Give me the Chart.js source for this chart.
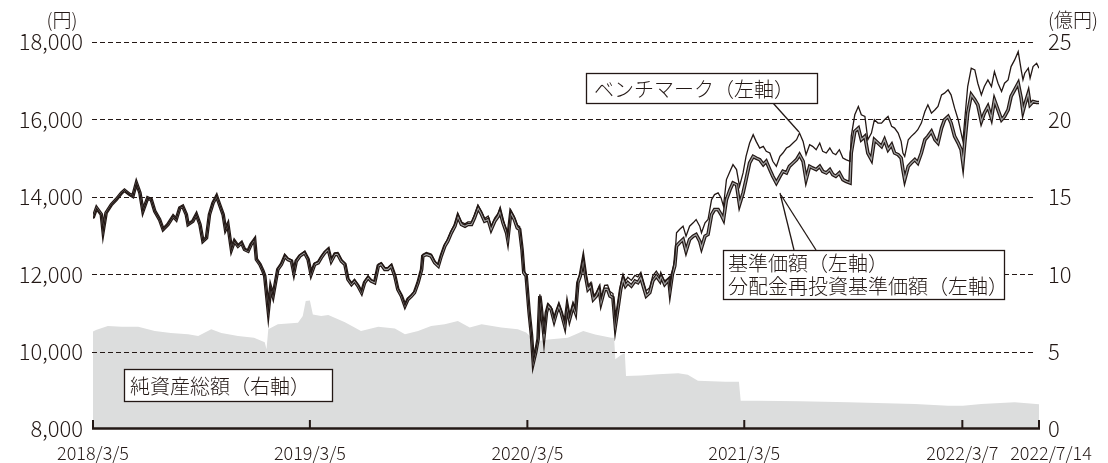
<!DOCTYPE html>
<html><head><meta charset="utf-8">
<script src="https://cdn.jsdelivr.net/npm/chart.js@4.4.1/dist/chart.umd.min.js"></script>
<style>html,body{margin:0;padding:0;background:#fff}#wrap{width:1108px;height:463px}</style>
</head><body><div id="wrap"><canvas id="c" width="1108" height="463"></canvas></div>
<script>
// days since 2018/3/5
const days = [0,6,14,17,22,31,39,48,53,62,67,73,79,84,92,98,104,112,118,126,135,140,146,151,157,160,168,174,180,185,191,196,202,208,213,219,223,227,233,238,244,250,255,261,266,272,275,281,286,289,295,299,303,311,
317,323,328,334,338,342,348,356,362,367,373,379,384,390,396,401,407,412,418,424,429,435,440,446,452,457,463,468,474,480,485,491,496,502,508,513,519,525,530,536,541,547,553,555,561,569,575,581,586,592,597,603,609,614,620,626,631,
637,642,648,654,659,665,670,676,682,685,690,696,698,703,709,714,718,722,725,729,734,738,741,745,749,752,754,759,763,766,771,776,780,784,788,794,798,802,808,812,816,820,825,829,833,838,842,847,852,855,861,866,870,875,879,884,888,892,896,900,906,912,917,922,926,931,937,942,948,954,
956,962,969,971,975,979,982,987,993,998,1004,1010,1015,1021,1024,1030,1035,1041,1046,1052,1057,1061,1066,1072,1077,1083,1088,1094,1099,1105,1111,1116,1122,1128,1133,1139,1144,1150,1156,1161,1167,1172,1178,1184,1189,1195,1200,1206,1211,1217,1223,1228,1234,1240,1245,1250,1256,1262,1267,1274,
1276,1282,1288,1293,1299,1304,1310,1315,1321,1327,1332,1338,1344,1349,1355,1360,1363,1366,1372,1377,1383,1388,1394,1400,1405,1411,1417,1422,1428,1433,1439,1444,1450,1456,1461,1464,1467,1472,1478,1484,1489,1495,1500,1506,1512,1517,1523,1529,1534,1540,1545,1551,1557,1562,1565,1568,1574,1577,1582,1588,1592];

// 基準価額 (円)
const navValues = [13456,13714,13542,13112,13585,13800,13928,14100,14169,14057,14014,14358,14100,13628,13971,13928,13628,13413,13155,13284,13499,13413,13714,13757,13542,13284,13370,13542,13284,12855,12941,13542,13843,14014,13800,13542,13155,13284,12640,12855,12726,12812,12640,12597,12769,12898,12382,12253,12082,11953,11051,11652,11437,12125,
12253,12468,12382,12339,12039,12339,12468,12554,12382,11996,12253,12296,12425,12554,12640,12339,12511,12511,12339,12253,11867,11738,11824,11695,11523,11781,11910,11824,11781,12211,12253,12125,12125,12211,11953,11609,11437,11180,11351,11437,11523,11781,12125,12468,12511,12468,12296,12211,12468,12726,12855,13070,13241,13499,13284,13241,13284,
13284,13456,13714,13542,13370,13413,13155,13370,13499,13628,13327,13070,12898,13585,13413,13198,13155,12640,12039,11953,11008,10407,9719,9977,10321,11437,11180,10407,11008,11180,11094,10793,11008,11180,11008,10664,11180,10836,11180,11008,11781,11953,12382,11953,11609,11695,11351,11437,11609,11266,11609,11609,11437,11394,10664,11180,11609,11867,11695,11781,11695,11824,11781,11910,11695,11437,11523,11824,11953,11824,
11953,11738,11867,11566,11996,12211,12726,12812,12898,12597,12898,12984,13027,12855,12683,12984,13027,13542,13671,13671,13542,13413,13928,14186,14358,14315,13800,14100,14444,14874,15045,15002,14959,14831,14917,14702,14530,14358,14530,14659,14616,14787,14874,14959,15088,14917,14444,14787,14745,14702,14787,14659,14616,14702,14573,14530,14616,14444,14401,14358,
15131,15690,15776,15475,15561,15131,14960,15475,15389,15303,15475,15217,15346,15131,15088,15002,14702,14444,14788,14874,14960,14874,15131,15475,15561,15690,15475,15389,15776,15990,16076,15905,15561,15389,15217,14874,15389,16162,16635,16506,16377,15948,16162,16334,16033,16506,16248,15990,16076,16248,16592,16764,16935,16549,16205,16377,16678,16377,16463,16437,16437];

// 分配金再投資基準価額 (円) — no distributions in the period, identical to 基準価額
const reinvestValues = navValues;

// ベンチマーク (円)
const benchValues = [13430,13700,13530,13100,13570,13790,13920,14090,14160,14050,14010,14350,14100,13630,13970,13930,13630,13420,13160,13290,13510,13420,13720,13770,13550,13290,13380,13550,13290,12860,12950,13560,13860,14030,13810,13550,13160,13300,12650,12870,12740,12830,12650,12610,12790,12920,12390,12270,12090,11960,11060,11670,11450,12150,
12280,12500,12410,12370,12060,12370,12500,12590,12410,12020,12290,12330,12460,12590,12680,12380,12550,12560,12380,12290,11900,11770,11860,11730,11550,11820,11950,11860,11820,12260,12300,12170,12170,12260,11990,11640,11470,11200,11380,11470,11560,11820,12170,12510,12560,12520,12340,12250,12520,12780,12910,13130,13300,13560,13350,13300,13350,
13350,13530,13780,13620,13440,13500,13230,13450,13580,13700,13400,13140,12960,13660,13490,13270,13230,12700,12090,12000,11050,10440,9760,10020,10360,11480,11230,10450,11060,11240,11150,10850,11070,11240,11070,10720,11250,10900,11250,11080,11860,12030,12460,12040,11700,11790,11440,11530,11700,11360,11710,11720,11550,11500,10760,11300,11740,12000,11830,11920,11840,11970,11930,12050,11830,11570,11660,11960,12080,11940,
11990,11824,11910,11652,12082,12382,13070,13156,13241,12984,13241,13327,13413,13241,13070,13327,13413,13928,14057,14100,13971,13757,14444,14659,14831,14702,14272,14616,15045,15389,15604,15432,15260,15303,15174,15131,14917,14787,15045,15131,15260,15303,15389,15475,15647,15432,15088,15346,15303,15217,15389,15174,15131,15260,15131,15088,15217,15002,14959,14917,
15561,16119,16334,16119,16076,15475,15647,15990,15905,15905,15990,16076,15819,15776,15647,15432,15131,15046,15475,15561,15647,15733,15905,16205,16377,16162,16248,16334,16635,16678,16764,16635,16291,15990,15647,15432,15990,16850,17322,17279,16935,16635,16850,17021,16850,17236,16935,16721,16935,17021,17365,17537,17751,17279,17021,17193,17322,17064,17365,17451,17322];

// 純資産総額 (億円)
const assetDays = [0,5,25,48,76,104,131,160,177,199,216,244,271,289,292,295,311,345,353,358,365,370,384,396,424,451,480,508,525,547,569,592,614,634,654,687,715,729,735,744,752,771,799,825,845,872,877,879,889,895,897,922,951,985,1001,1018,1064,1087,1090,1119,1190,1271,1383,1439,1464,1495,1551,1577,1592];
const assetValues = [6.3,6.4,6.66,6.6,6.6,6.33,6.2,6.12,6.0,6.44,6.2,6.0,5.9,5.6,5.15,6.44,6.77,6.87,7.3,8.27,8.3,7.4,7.3,7.36,6.9,6.33,6.6,6.5,6.12,6.33,6.66,6.77,6.98,6.55,6.77,6.55,6.44,6.23,6.0,5.15,5.7,5.8,5.9,6.33,6.1,5.9,5.9,4.5,4.8,4.9,3.43,3.45,3.54,3.6,3.5,3.11,3.05,3.05,1.82,1.82,1.8,1.72,1.61,1.5,1.5,1.61,1.72,1.65,1.6];

const xTickDays = [0,365,731,1096,1463,1592];
const xTickLabels = ['2018/3/5','2019/3/5','2020/3/5','2021/3/5','2022/3/7','2022/7/14'];
const leftTicks = [8000,10000,12000,14000,16000,18000];
const rightTicks = [0,5,10,15,20,25];

const FONT = "'Noto Sans CJK JP Light','Noto Sans CJK JP','Noto Sans',sans-serif";
const INK = '#231815';

const pts = (xs, ys) => xs.map((d, i) => ({x: d, y: ys[i]}));

const decor = {
  id: 'decor',
  afterDatasetDraw(chart, args) {
    if (args.index !== 3) return;
    const ctx = chart.ctx, a = chart.chartArea, y = chart.scales.y;
    ctx.save();
    ctx.strokeStyle = INK; ctx.lineWidth = 1; ctx.setLineDash([5,3]);
    leftTicks.forEach(v => {
      if (v === 8000) return;
      const py = Math.round(y.getPixelForValue(v)) + 0.5;
      ctx.beginPath(); ctx.moveTo(a.left - 1, py); ctx.lineTo(a.right - 4, py); ctx.stroke();
    });
    ctx.restore();
  },
  afterDraw(chart) {
    const ctx = chart.ctx, a = chart.chartArea, x = chart.scales.x;
    ctx.save();
    ctx.strokeStyle = INK; ctx.lineWidth = 2.5;
    ctx.beginPath(); ctx.moveTo(a.left - 1, a.bottom - 0.5); ctx.lineTo(a.right + 1, a.bottom - 0.5); ctx.stroke();
    ctx.lineWidth = 2;
    xTickDays.forEach(d => {
      const px = x.getPixelForValue(d);
      ctx.beginPath(); ctx.moveTo(px, a.bottom); ctx.lineTo(px, a.bottom - 9); ctx.stroke();
    });
    ctx.fillStyle = INK; ctx.textBaseline = 'middle'; ctx.textAlign = 'center';
    ctx.font = '300 18px ' + FONT;
    xTickDays.forEach((d, i) => {
      let px = x.getPixelForValue(d);
      if (i === xTickDays.length - 1) px += 12;
      ctx.fillText(xTickLabels[i], px, 453);
    });
    ctx.font = '300 19px ' + FONT;
    ctx.fillText('(円)', 62, 20);
    ctx.fillText('(億円)', 1073, 20);
    ctx.lineWidth = 1.3; ctx.strokeStyle = INK;
    const box = (bx, by, bw, bh) => {
      ctx.fillStyle = '#fff'; ctx.fillRect(bx, by, bw, bh);
      ctx.strokeRect(bx + 0.5, by + 0.5, bw, bh);
    };
    const line = (x1, y1, x2, y2) => { ctx.beginPath(); ctx.moveTo(x1, y1); ctx.lineTo(x2, y2); ctx.stroke(); };
    line(773, 103, 799, 132);
    line(794, 250, 780, 193);
    line(816, 250, 781, 195);
    box(586, 73, 231, 30);
    box(723, 250, 281, 49);
    box(124, 369, 208, 32);
    ctx.fillStyle = INK; ctx.textAlign = 'left'; ctx.font = '300 20px ' + FONT;
    ctx.fillText('ベンチマーク（左軸）', 594, 89);
    ctx.fillText('基準価額（左軸）', 728, 263);
    ctx.fillText('分配金再投資基準価額（左軸）', 728, 286);
    ctx.fillText('純資産総額（右軸）', 130, 386);
    ctx.restore();
  }
};

new Chart(document.getElementById('c'), {
  type: 'line',
  data: {
    datasets: [
      {label: 'ベンチマーク（左軸）', data: pts(days, benchValues), yAxisID: 'y', borderColor: INK, borderWidth: 1.3, pointRadius: 0, order: 1, tension: 0},
      {label: '基準価額（左軸）', data: pts(days, navValues), yAxisID: 'y', borderColor: '#a0a0a0', borderWidth: 1.2, pointRadius: 0, order: 2, tension: 0},
      {label: '分配金再投資基準価額（左軸）', data: pts(days, reinvestValues), yAxisID: 'y', borderColor: INK, borderWidth: 3.6, pointRadius: 0, order: 3, tension: 0},
      {label: '純資産総額（右軸）', data: pts(assetDays, assetValues), yAxisID: 'y2', borderWidth: 0, borderColor: 'rgba(0,0,0,0)', backgroundColor: '#dcdddd', fill: 'origin', pointRadius: 0, order: 4, tension: 0}
    ]
  },
  options: {
    responsive: false, animation: false,
    layout: {padding: {top: 42, left: 0, right: 0, bottom: 0}},
    plugins: {legend: {display: false}, tooltip: {enabled: false}},
    scales: {
      x: {type: 'linear', min: 0, max: 1592, grid: {display: false}, border: {display: false},
          ticks: {display: false}, afterFit: s => { s.height = 34; }},
      y: {position: 'left', min: 8000, max: 18000, grid: {display: false, drawTicks: false}, border: {display: false},
          afterBuildTicks: s => { s.ticks = leftTicks.map(v => ({value: v})); },
          ticks: {color: INK, padding: 10, font: {size: 22, weight: 300, family: FONT}, callback: v => v.toLocaleString('en-US')},
          afterFit: s => { s.width = 93; }},
      y2: {position: 'right', min: 0, max: 25, grid: {display: false, drawTicks: false}, border: {display: false},
          afterBuildTicks: s => { s.ticks = rightTicks.map(v => ({value: v})); },
          ticks: {color: INK, padding: 9, font: {size: 22, weight: 300, family: FONT}},
          afterFit: s => { s.width = 69; }}
    }
  },
  plugins: [decor]
});
</script></body></html>
